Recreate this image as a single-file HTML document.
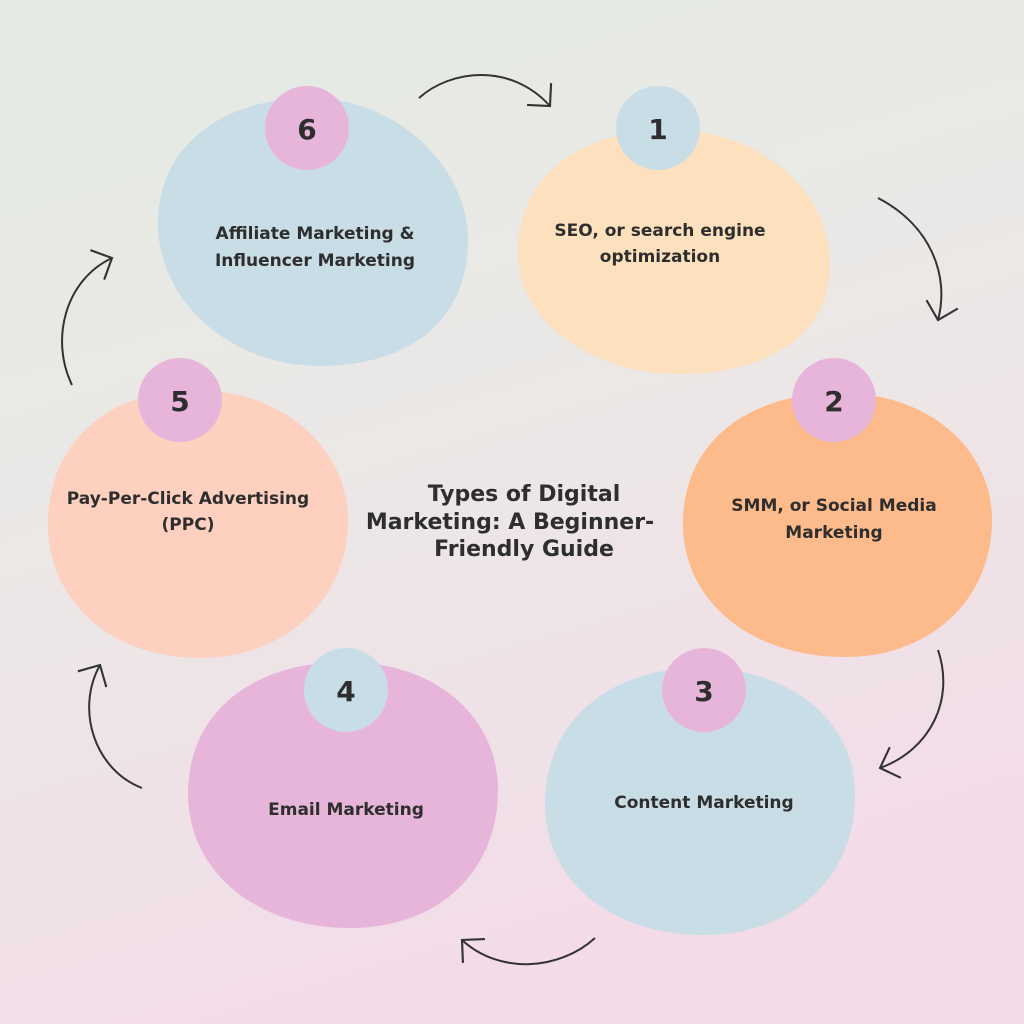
<!DOCTYPE html>
<html><head><meta charset="utf-8"><style>
html,body{margin:0;padding:0;width:1024px;height:1024px;overflow:hidden}
svg{display:block}
text{font-family:"DejaVu Sans","Liberation Sans",sans-serif;font-weight:bold;fill:#2e2e2e}
</style></head><body>
<svg width="1024" height="1024" viewBox="0 0 1024 1024" xmlns="http://www.w3.org/2000/svg">
<defs>
<linearGradient id="bg" x1="0" y1="0" x2="0.3" y2="1">
<stop offset="0" stop-color="#e4ebe3"/><stop offset="0.5" stop-color="#ebe8e6"/><stop offset="1" stop-color="#f3dce8"/>
</linearGradient>
<marker id="ah" viewBox="-2 -6 16 24" refX="12" refY="6" markerWidth="26" markerHeight="39" markerUnits="userSpaceOnUse" orient="auto">
<path d="M2,-4 L12,6 L2,16" fill="none" stroke="#333" stroke-width="1.3"/>
</marker>
</defs>
<rect width="1024" height="1024" fill="url(#bg)"/>
<path d="M158,220 C160,140 230,98 310,98 C400,98 468,170 468,240 C468,320 410,366 320,366 C230,366 156,300 158,220Z" fill="#c9dde6"/>
<path d="M518,250 C520,175 580,130 670,130 C760,130 830,190 830,265 C830,340 760,374 680,374 C590,374 516,320 518,250Z" fill="#fde0bd"/>
<path d="M683,520 C685,440 750,393 840,393 C930,393 992,450 992,520 C992,600 930,657 845,657 C750,657 681,600 683,520Z" fill="#fdba8b"/>
<path d="M545,800 C547,720 610,668 700,668 C790,668 855,720 855,795 C855,880 790,935 705,935 C610,935 543,880 545,800Z" fill="#c9dde6"/>
<path d="M188,790 C190,710 255,662 345,662 C440,662 498,720 498,790 C498,870 440,928 350,928 C255,928 186,870 188,790Z" fill="#e8b5da"/>
<path d="M48,520 C50,440 110,390 195,390 C285,390 348,450 348,520 C348,600 285,658 200,658 C110,658 46,600 48,520Z" fill="#fdd0c0"/>
<circle cx="307" cy="128" r="42" fill="#e8b5da"/>
<circle cx="658" cy="128" r="42" fill="#c9dde6"/>
<circle cx="834" cy="400" r="42" fill="#e8b5da"/>
<circle cx="704" cy="690" r="42" fill="#e8b5da"/>
<circle cx="346" cy="690" r="42" fill="#c9dde6"/>
<circle cx="180" cy="400" r="42" fill="#e8b5da"/>
<g font-size="28" text-anchor="middle">
<text x="307" y="139">6</text><text x="658" y="139">1</text><text x="834" y="411">2</text>
<text x="704" y="701">3</text><text x="346" y="701">4</text><text x="180" y="411">5</text>
</g>
<g font-size="17" text-anchor="middle">
<text x="315" y="239">Affiliate Marketing &amp;</text><text x="315" y="266">Influencer Marketing</text>
<text x="660" y="236">SEO, or search engine</text><text x="660" y="262">optimization</text>
<text x="834" y="511">SMM, or Social Media</text><text x="834" y="538">Marketing</text>
<text x="704" y="808">Content Marketing</text>
<text x="346" y="815">Email Marketing</text>
<text x="188" y="504">Pay-Per-Click Advertising</text><text x="188" y="530">(PPC)</text>
</g>
<g font-size="22" text-anchor="middle">
<text x="524" y="501">Types of Digital</text>
<text x="510" y="529">Marketing: A Beginner-</text>
<text x="524" y="556">Friendly Guide</text>
</g>
<g fill="none" stroke="#333" stroke-width="2" marker-end="url(#ah)">
<path d="M419,98 C450,70 510,62 550,106"/>
<path d="M878,198 C930,225 950,275 938,320"/>
<path d="M938,650 C955,700 930,750 880,768"/>
<path d="M595,938 C560,970 500,975 462,940"/>
<path d="M142,788 C95,770 75,710 100,665"/>
<path d="M72,385 C50,340 65,280 112,258"/>
</g>
</svg>
</body></html>
